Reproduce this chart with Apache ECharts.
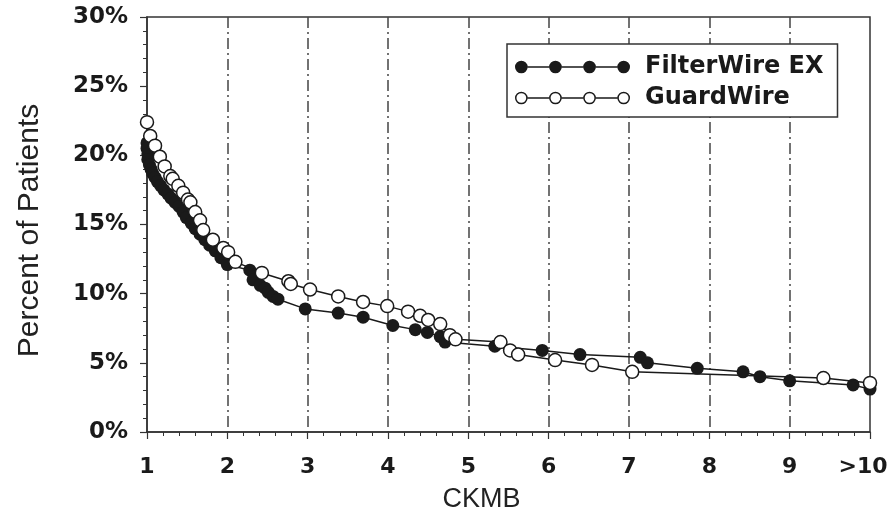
<!DOCTYPE html>
<html>
<head>
<meta charset="utf-8">
<script src="https://cdn.jsdelivr.net/npm/echarts@6/dist/echarts.min.js"></script>
<style>
    html, body { margin: 0; padding: 0; background: #fff; }
    #chart { width: 890px; height: 520px; }
</style>
</head>
<body>
<div id="chart"></div>
<script>
// --- data: [CKMB multiple, percent of patients] ---
const filterWireEx = [
    [1.00, 20.9], [1.00, 20.5], [1.01, 20.1], [1.01, 19.7], [1.03, 19.3], [1.05, 19.0],
    [1.07, 18.7], [1.10, 18.4], [1.13, 18.1], [1.17, 17.8], [1.21, 17.5], [1.26, 17.2],
    [1.30, 16.9], [1.35, 16.6], [1.40, 16.3], [1.45, 15.9], [1.49, 15.5], [1.55, 15.1],
    [1.60, 14.7], [1.66, 14.3], [1.72, 13.9], [1.78, 13.5], [1.85, 13.1], [1.92, 12.6],
    [2.00, 12.1], [2.28, 11.7], [2.32, 11.0], [2.41, 10.6], [2.47, 10.4], [2.51, 10.1],
    [2.57, 9.8], [2.63, 9.6], [2.97, 8.9], [3.38, 8.6], [3.69, 8.3], [4.06, 7.7],
    [4.34, 7.4], [4.49, 7.2], [4.65, 6.9], [4.71, 6.5], [5.33, 6.2], [5.92, 5.9],
    [6.39, 5.6], [7.14, 5.4], [7.23, 5.0], [7.85, 4.6], [8.42, 4.35], [8.63, 4.0],
    [9.00, 3.7], [9.79, 3.4], [10.0, 3.1]
];
const guardWire = [
    [1.00, 22.4], [1.04, 21.4], [1.10, 20.7], [1.16, 19.9], [1.22, 19.2], [1.29, 18.5],
    [1.32, 18.3], [1.39, 17.8], [1.45, 17.3], [1.51, 16.8], [1.54, 16.6], [1.60, 15.9],
    [1.66, 15.3], [1.70, 14.6], [1.82, 13.9], [1.95, 13.3], [2.01, 13.0], [2.10, 12.3],
    [2.43, 11.5], [2.76, 10.9], [2.79, 10.7], [3.03, 10.3], [3.38, 9.8], [3.69, 9.4],
    [3.99, 9.1], [4.25, 8.7], [4.40, 8.4], [4.50, 8.1], [4.65, 7.8], [4.77, 7.0],
    [4.84, 6.7], [5.40, 6.5], [5.52, 5.9], [5.62, 5.6], [6.08, 5.2], [6.54, 4.85],
    [7.04, 4.35], [9.42, 3.9], [10.0, 3.55]
];
const xTickLabels = ['1', '2', '3', '4', '5', '6', '7', '8', '9', '>10'];
const seriesNames = ['FilterWire EX', 'GuardWire'];

// legend icons: four dots joined by a line (filled / hollow)
function dotsIcon(hollow) {
    let p = '';
    const cx = [6.5, 41.5, 76.5, 111.5];
    cx.forEach((c, i) => {
        p += `M${c - 6.5},6.5 A6.5,6.5 0 1,1 ${c + 6.5},6.5 A6.5,6.5 0 1,1 ${c - 6.5},6.5 Z `;
        if (hollow) {
            p += `M${c - 5},6.5 A5,5 0 1,0 ${c + 5},6.5 A5,5 0 1,0 ${c - 5},6.5 Z `;
        }
        if (i < cx.length - 1) {
            p += `M${c + 6.5},5.7 L${cx[i + 1] - 6.5},5.7 L${cx[i + 1] - 6.5},7.3 L${c + 6.5},7.3 Z `;
        }
    });
    return 'path://' + p;
}

const ink = '#1a1a1a';
const chart = echarts.init(document.getElementById('chart'));

chart.setOption({
    animation: false,
    backgroundColor: '#fff',
    grid: {
        left: 147, right: 20, top: 17, bottom: 88,
        outerBoundsMode: 'none',
        containLabel: false,
        show: true, borderColor: '#333', borderWidth: 1.5
    },
    legend: {
        left: 507, top: 44,
        orient: 'vertical',
        padding: [11, 14, 7, 8],
        itemGap: 7,
        itemWidth: 115, itemHeight: 13,
        borderColor: '#333', borderWidth: 1.5,
        backgroundColor: '#fff',
        selectedMode: false,
        textStyle: {
            fontFamily: 'DejaVu Sans', fontWeight: 'bold', fontSize: 24,
            color: ink, padding: [0, 0, 0, 10]
        },
        data: [
            { name: seriesNames[0], icon: dotsIcon(false), itemStyle: { color: ink, borderWidth: 0 } },
            { name: seriesNames[1], icon: dotsIcon(true), itemStyle: { color: ink, borderWidth: 0 } }
        ]
    },
    xAxis: {
        type: 'value',
        min: 1, max: 10, interval: 1,
        name: 'CKMB',
        nameLocation: 'middle',
        nameGap: 54,
        nameTextStyle: {
            fontFamily: 'Liberation Sans', fontSize: 27, color: '#222',
            padding: [0, 54, 0, 0]
        },
        axisLine: { lineStyle: { color: '#333', width: 1.5 } },
        axisTick: { length: 7, lineStyle: { color: '#333', width: 1.2 } },
        minorTick: { show: true, splitNumber: 5, length: 4, lineStyle: { color: '#333' } },
        axisLabel: {
            margin: 24,
            fontFamily: 'DejaVu Sans', fontWeight: 'bold', fontSize: 22, color: ink,
            formatter: v => {
                const i = Math.round(v) - 1;
                return i === xTickLabels.length - 1 ? '{last|' + xTickLabels[i] + '}' : xTickLabels[i];
            },
            rich: {
                last: {
                    fontFamily: 'DejaVu Sans', fontWeight: 'bold', fontSize: 22, color: ink,
                    padding: [0, 14, 0, 0]
                }
            }
        },
        splitLine: {
            show: true, showMinLine: false, showMaxLine: false,
            lineStyle: { color: '#444', width: 1.5, type: [11, 4, 2, 4] }
        }
    },
    yAxis: {
        type: 'value',
        min: 0, max: 30, interval: 5,
        name: 'Percent of Patients',
        nameLocation: 'middle',
        nameGap: 102,
        nameTextStyle: {
            fontFamily: 'Liberation Sans', fontSize: 30, color: '#222',
            padding: [0, 12, 0, 0]
        },
        axisLine: { show: true, lineStyle: { color: '#333', width: 1.5 } },
        axisTick: { show: true, length: 7, lineStyle: { color: '#333', width: 1.2 } },
        minorTick: { show: true, splitNumber: 5, length: 4, lineStyle: { color: '#333' } },
        axisLabel: {
            margin: 19,
            fontFamily: 'DejaVu Sans', fontWeight: 'bold', fontSize: 23, color: ink,
            formatter: '{value}%'
        },
        splitLine: { show: false }
    },
    series: [
        {
            name: seriesNames[0],
            type: 'line',
            data: filterWireEx,
            symbol: 'circle',
            symbolSize: 13,
            showAllSymbol: true,
            itemStyle: { color: ink },
            lineStyle: { color: ink, width: 1.5 },
            z: 2
        },
        {
            name: seriesNames[1],
            type: 'line',
            data: guardWire,
            symbol: 'circle',
            symbolSize: 13,
            showAllSymbol: true,
            itemStyle: { color: '#fff', borderColor: ink, borderWidth: 1.5 },
            lineStyle: { color: ink, width: 1.5 },
            z: 3
        }
    ]
});
</script>
</body>
</html>
